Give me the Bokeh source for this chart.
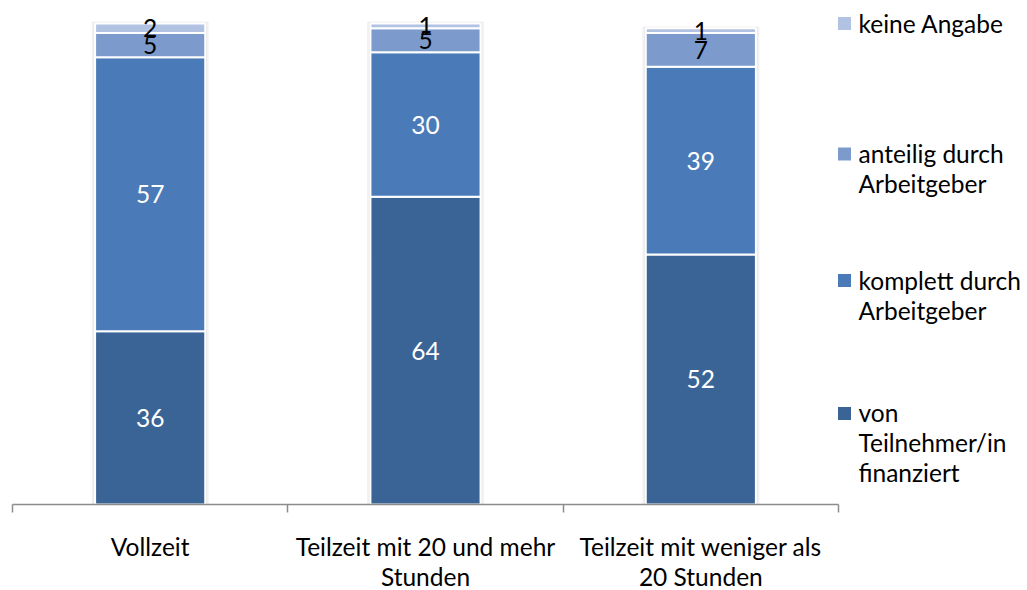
from bokeh.plotting import figure
from bokeh.models import Range1d, LinearAxis, FixedTicker, ColumnDataSource
from bokeh.core.properties import value
from bokeh.embed import file_html
from bokeh.resources import INLINE

# ---- data ----
categories = ["Vollzeit", "Teilzeit mit 20 und mehr\nStunden", "Teilzeit mit weniger als\n20 Stunden"]
series_keys = ["teilnehmer", "komplett", "anteilig", "keine"]
series_labels = ["von\nTeilnehmer/in\nfinanziert", "komplett durch\nArbeitgeber",
                 "anteilig durch\nArbeitgeber", "keine Angabe"]
teilnehmer = [36, 64, 52]
komplett = [57, 30, 39]
anteilig = [5, 5, 7]
keine = [2, 1, 1]
colors = ["#3B6496", "#4A7BB8", "#7C9BCC", "#B1C2E2"]

FONT = value("Lato")
FS = "24.5px"

# pixel geometry helpers (window px -> data)
PX_X = 826 / 3.0          # px per category
PX_Y = 4.81               # px per percent
x0_win, y0_win = 12, 504  # window position of data origin
fig_left, fig_top, W, H = 0, 0, 1027, 590

def dx(wx):
    return (wx - x0_win) / PX_X

def dy(wy):
    return (y0_win - wy) / PX_Y

p = figure(width=W, height=H,
           x_range=Range1d(dx(fig_left), dx(fig_left + W)),
           y_range=Range1d(dy(fig_top + H), dy(fig_top)),
           x_axis_location=None, y_axis_location=None,
           toolbar_location=None, output_backend="svg", min_border=0)
p.outline_line_color = None
p.xgrid.visible = False
p.ygrid.visible = False
p.background_fill_color = "white"

xs = [i + 0.5 for i in range(len(categories))]
totals = [a + b + c + d for a, b, c, d in zip(teilnehmer, komplett, anteilig, keine)]

# soft shadow behind bars
p.vbar(x=xs, top=[t + 0.4 for t in totals], bottom=0, width=0.4 + 7 / PX_X,
       fill_color="#000000", fill_alpha=0.05, line_color=None)
p.vbar(x=xs, top=[t + 0.2 for t in totals], bottom=0, width=0.4 + 3 / PX_X,
       fill_color="#000000", fill_alpha=0.07, line_color=None)

src = ColumnDataSource(dict(x=xs, teilnehmer=teilnehmer, komplett=komplett,
                            anteilig=anteilig, keine=keine))
p.vbar_stack(series_keys, x="x", width=0.4, source=src, fill_color=colors,
             line_color="white", line_width=2)

# segment labels
series_vals = [teilnehmer, komplett, anteilig, keine]
lx, ly, lt, lc = [], [], [], []
for i, x in enumerate(xs):
    base = 0
    for vals in series_vals:
        v = vals[i]
        lx.append(x)
        ly.append(base + v / 2)
        lt.append(str(v))
        lc.append("white" if v >= 10 else "black")
        base += v
p.text(x=lx, y=ly, text=lt, text_color=lc, text_align="center", text_baseline="middle",
       text_font=FONT, text_font_size=FS)

# x axis
ax = LinearAxis(ticker=FixedTicker(ticks=xs, minor_ticks=[0, 1, 2, 3]),
                fixed_location=0, bounds=(0, 3))
ax.major_label_overrides = {x: c for x, c in zip(xs, categories)}
ax.axis_line_color = "#8C8C8C"
ax.axis_line_width = 1.5
ax.major_tick_line_color = None
ax.major_tick_out = 0
ax.major_tick_in = 0
ax.minor_tick_line_color = "#8C8C8C"
ax.minor_tick_line_width = 1.5
ax.minor_tick_out = 8
ax.minor_tick_in = 0
ax.major_label_standoff = 19
ax.major_label_text_font = "Lato"
ax.major_label_text_font_size = FS
ax.major_label_text_color = "black"
ax.major_label_text_line_height = 1.04
p.add_layout(ax, "below")

# legend (top to bottom: reverse stacking order)
leg_square_y_win = [23, 153.5, 280, 413]
leg_text_top_win = [8, 138, 265, 397]
leg_labels = series_labels[::-1]
leg_colors = colors[::-1]
p.scatter(x=[dx(844)] * 4, y=[dy(w) for w in leg_square_y_win], marker="square",
          size=13, fill_color=leg_colors, line_color=None)
p.text(x=[dx(858)] * 4, y=[dy(w) for w in leg_text_top_win], text=leg_labels,
       text_align="left", text_baseline="top", text_font=FONT, text_font_size=FS,
       text_color="black", text_line_height=1.04)

open("out.html", "w").write(file_html(p, INLINE))
